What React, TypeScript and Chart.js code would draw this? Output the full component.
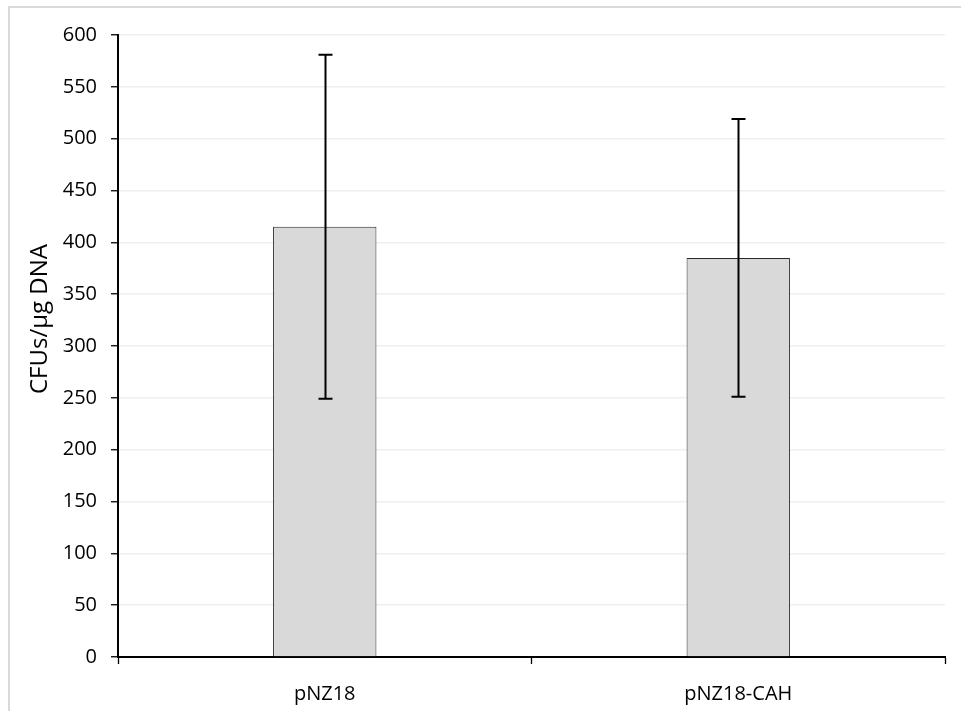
import React, { useEffect, useRef } from "react";
import { Chart, registerables } from "chart.js";

Chart.register(...registerables);

const categories = ["pNZ18", "pNZ18-CAH"];
const meanValues = [415, 385];
const errorValues = [166, 134];
const yTicks = { min: 0, max: 600, step: 50 };
const yTitle = "CFUs/µg DNA";

const FONT = "'Open Sans', 'Liberation Sans', sans-serif";

const errorBarPlugin = {
  id: "errorBars",
  afterDatasetsDraw(chart: any) {
    const meta = chart.getDatasetMeta(0);
    const yScale = chart.scales.y;
    const ctx = chart.ctx;
    ctx.save();
    ctx.strokeStyle = "#000";
    ctx.lineWidth = 2;
    meta.data.forEach((bar: any, i: number) => {
      const x = Math.round(bar.x) + 0.5;
      const top = yScale.getPixelForValue(meanValues[i] + errorValues[i]);
      const bottom = yScale.getPixelForValue(meanValues[i] - errorValues[i]);
      ctx.beginPath();
      ctx.moveTo(x, top);
      ctx.lineTo(x, bottom);
      ctx.moveTo(x - 7, top);
      ctx.lineTo(x + 7, top);
      ctx.moveTo(x - 7, bottom);
      ctx.lineTo(x + 7, bottom);
      ctx.stroke();
    });
    ctx.restore();
  },
};

const framePlugin = {
  id: "frame",
  beforeDraw(chart: any) {
    const ctx = chart.ctx;
    ctx.save();
    ctx.fillStyle = "#fff";
    ctx.fillRect(0, 0, chart.width, chart.height);
    ctx.strokeStyle = "#d9d9d9";
    ctx.lineWidth = 2;
    ctx.strokeRect(9, 7, chart.width + 20, chart.height + 20);
    ctx.restore();
  },
  afterDraw(chart: any) {
    const ctx = chart.ctx;
    ctx.save();
    ctx.translate(47, 319);
    ctx.rotate(-Math.PI / 2);
    ctx.fillStyle = "#000";
    ctx.font = `24px ${FONT}`;
    ctx.textAlign = "center";
    ctx.textBaseline = "alphabetic";
    ctx.fillText(yTitle, 0, 0);
    ctx.restore();
  },
};

export default function App() {
  const canvasRef = useRef<HTMLCanvasElement | null>(null);

  useEffect(() => {
    const canvas = canvasRef.current;
    if (!canvas) return;
    const chart = new Chart(canvas, {
      type: "bar",
      data: {
        labels: categories,
        datasets: [
          {
            data: meanValues,
            backgroundColor: "#d9d9d9",
            borderColor: "#2a2a2a",
            borderWidth: 1,
            categoryPercentage: 1,
            barPercentage: 0.25,
          },
        ],
      },
      options: {
        responsive: false,
        animation: false,
        devicePixelRatio: 1,
        layout: { padding: { left: 0, right: 16, top: 35, bottom: 0 } },
        plugins: {
          legend: { display: false },
          tooltip: { enabled: false },
        },
        scales: {
          x: {
            offset: true,
            grid: {
              offset: true,
              drawOnChartArea: false,
              drawTicks: true,
              tickLength: 7,
              tickColor: "#000",
              tickWidth: 1.3,
            },
            border: { display: true, color: "#000", width: 2 },
            ticks: {
              color: "#000",
              font: { family: FONT, size: 20 },
              padding: 18,
            },
            afterFit(scale: any) {
              scale.height = 54;
            },
          },
          y: {
            min: yTicks.min,
            max: yTicks.max,
            ticks: {
              stepSize: yTicks.step,
              color: "#000",
              font: { family: FONT, size: 20 },
              padding: 14,
            },
            grid: {
              color: (c: any) => (c.tick && c.tick.value === 0 ? "rgba(0,0,0,0)" : "#efefef"),
              lineWidth: 1.5,
              tickLength: 7,
              tickColor: "#000",
              tickWidth: 1.3,
            },
            border: { display: true, color: "#000", width: 2 },
            afterFit(scale: any) {
              scale.width = 118;
            },
          },
        },
      },
      plugins: [framePlugin, errorBarPlugin],
    });
    return () => chart.destroy();
  }, []);

  return (
    <div style={{ position: "fixed", left: 0, top: 0, width: 961, height: 711 }}>
      <canvas ref={canvasRef} width={961} height={711} style={{ display: "block" }} />
    </div>
  );
}
